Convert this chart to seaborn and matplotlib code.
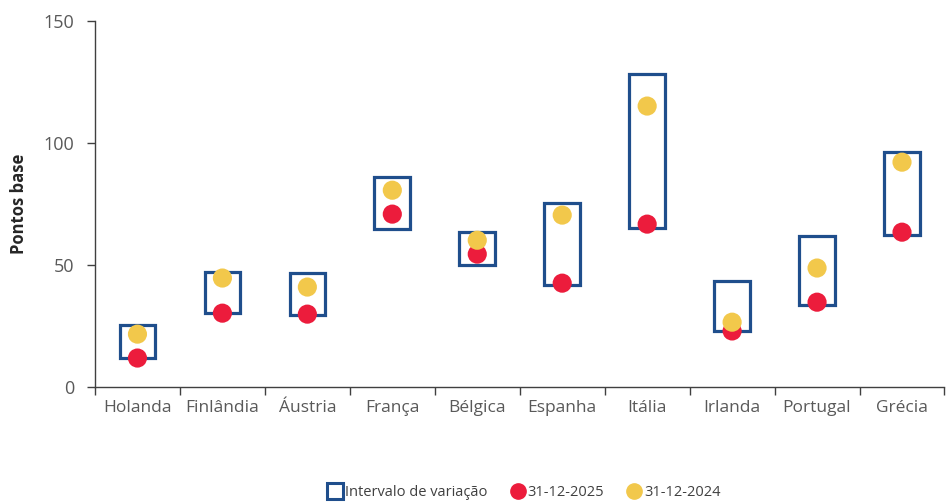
import numpy as np
import seaborn as sns
import matplotlib.pyplot as plt
from matplotlib.lines import Line2D
from matplotlib.ticker import FixedLocator

# dados (pontos base)
paises = ['Holanda', 'Finlândia', 'Áustria', 'França', 'Bélgica',
          'Espanha', 'Itália', 'Irlanda', 'Portugal', 'Grécia']
minimo = [11.9, 30.3, 29.5, 64.8, 50.0, 41.8, 65.2, 23.0, 33.6, 62.3]
maximo = [25.4, 47.1, 46.7, 86.0, 63.5, 75.4, 128.3, 43.4, 61.9, 96.3]
v2025 = [11.9, 30.3, 29.9, 70.9, 54.5, 42.6, 66.8, 23.0, 34.8, 63.5]
v2024 = [21.7, 44.7, 41.0, 80.7, 60.2, 70.5, 115.2, 26.6, 48.8, 92.2]

azul = '#1F4E8C'
vermelho = '#EC1C3C'
amarelo = '#F2C84B'

sns.set_style('white')
plt.rcParams['font.family'] = ['Open Sans', 'DejaVu Sans']

fig = plt.figure(figsize=(9.46, 5.04), dpi=100)
ax = fig.add_axes([0.1004, 0.232, 0.898, 0.726])

x = np.arange(len(paises))
alturas = np.array(maximo) - np.array(minimo)
ax.bar(x, alturas, bottom=minimo, width=0.42, fill=False,
       edgecolor=azul, linewidth=2.3, zorder=2)

sns.scatterplot(x=x, y=v2025, color=vermelho, s=190, edgecolor='none', ax=ax, zorder=3)
sns.scatterplot(x=x, y=v2024, color=amarelo, s=190, edgecolor='none', ax=ax, zorder=4)

ax.set_xlim(-0.5, len(paises) - 0.5)
ax.set_ylim(0, 150)
ax.set_yticks([0, 50, 100, 150])
ax.set_xticks(x)
ax.set_xticklabels(paises)
ax.xaxis.set_minor_locator(FixedLocator(np.arange(-0.5, len(paises), 1)))
ax.tick_params(axis='x', which='major', length=0, pad=9, labelsize=12.5, labelcolor='#595959')
ax.tick_params(axis='x', which='minor', length=6, width=1, color='#404040', direction='out', bottom=True)
ax.tick_params(axis='y', length=6, width=1, color='#404040', direction='out', left=True,
               labelsize=13, labelcolor='#595959', pad=9)

for s in ['top', 'right']:
    ax.spines[s].set_visible(False)
for s in ['left', 'bottom']:
    ax.spines[s].set_color('#404040')
    ax.spines[s].set_linewidth(1)

ax.set_ylabel('Pontos base', fontsize=12, fontweight='bold', color='#262626', labelpad=11)
ax.set_xlabel('')

handles = [
    Line2D([], [], marker='s', linestyle='none', markersize=11, markerfacecolor='white',
           markeredgecolor=azul, markeredgewidth=2.2),
    Line2D([], [], marker='o', linestyle='none', markersize=11, color=vermelho),
    Line2D([], [], marker='o', linestyle='none', markersize=11, color=amarelo),
]
fig.legend(handles, ['Intervalo de variação', '31-12-2025', '31-12-2024'],
           loc='center', bbox_to_anchor=(0.554, 0.022), ncol=3, frameon=False,
           fontsize=10.5, handletextpad=0.15, columnspacing=1.6, handlelength=1.0,
           labelcolor='#404040')

fig.savefig('out.png', dpi=100)
